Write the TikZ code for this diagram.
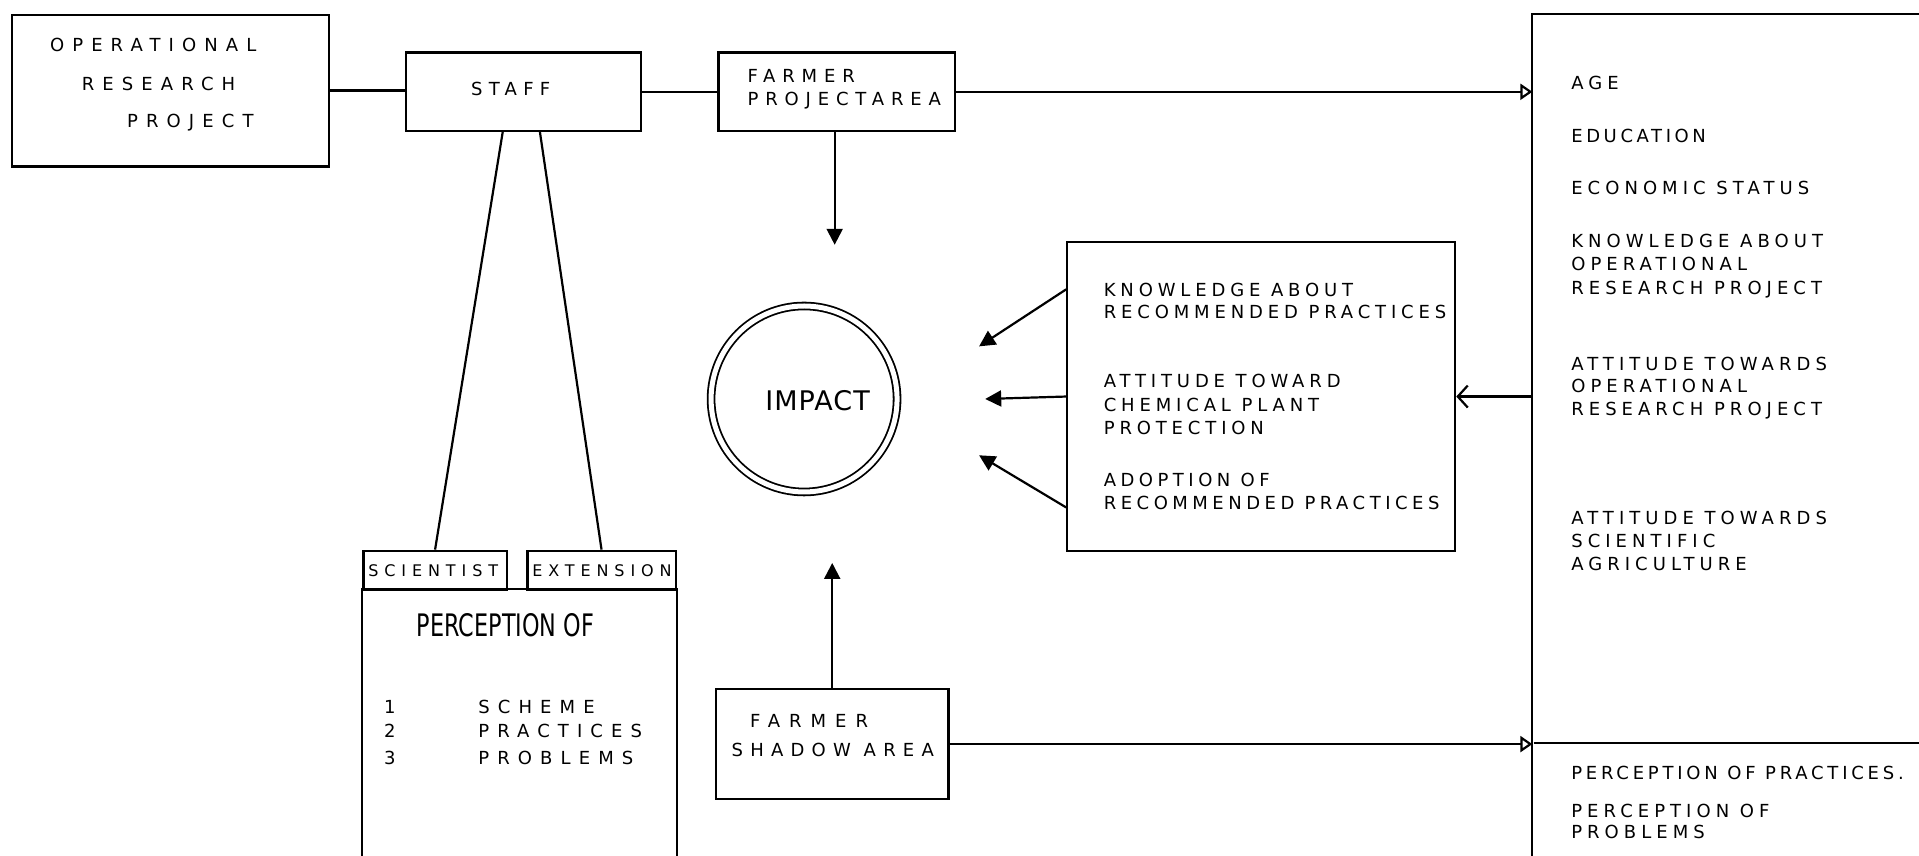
\documentclass[tikz,border=0pt]{standalone}
\usepackage{fontspec}
\setmainfont{DejaVu Sans}
\newcommand\lsfont[3]{\fontsize{#1}{#2}\selectfont\addfontfeature{LetterSpace=#3}}
\newfontfamily\condf[FakeStretch=0.72]{DejaVu Sans}
\newfontfamily\impf[LetterSpace=4]{DejaVu Sans}
\usetikzlibrary{arrows.meta,calc}
\begin{document}
\begin{tikzpicture}[x=0.612pt,y=-0.612pt, line width=1.1pt,
 box/.style={draw, rectangle, inner sep=0pt},
 frame/.style={rectangle, inner sep=0pt},
 txt/.style={anchor=west, inner sep=0pt, align=left, font=\lsfont{9}{11.6}{28}, text height=6.5pt, text depth=0pt},
 ftip/.style={-{Triangle[length=8pt,width=8pt]}},
 otip/.style={-{Triangle[open,length=6pt,width=8pt]}},
 btip/.style={-{Straight Barb[length=5pt,width=11pt]}}]
\useasboundingbox (0,0) rectangle (1568,699);

% boxes
\node[box, minimum width=158.5pt, minimum height=75.9pt] (orp) at (139.5,74) {};
\node[box, minimum width=117.5pt, minimum height=39.2pt] (staff) at (428,75) {};
\node[box, minimum width=118.1pt, minimum height=39.2pt] (fpa) at (683.5,75) {};
\node[box, minimum width=116.3pt, minimum height=55.1pt] (fsa) at (680,608) {};
\node[box, minimum width=194.0pt, minimum height=154.2pt] (mid) at (1030.5,324) {};
\node[box, minimum width=71.6pt, minimum height=19.6pt] (sci) at (355.5,466) {};
\node[box, minimum width=74.1pt, minimum height=19.6pt] (ext) at (491.5,466) {};
\node[frame, minimum width=156.1pt, minimum height=132.8pt] (perc) at (424.5,590.5) {};
\node[frame, minimum width=192.8pt, minimum height=420.4pt] (big) at (1410.5,355.5) {};
\node[draw, circle, double, double distance=2.5pt, line width=0.9pt, minimum size=93pt, inner sep=0pt] (imp) at (657,326) {};

% partial frames
\draw (perc.south west) -- (perc.north west) -- (perc.north east) -- (perc.south east);
\draw (big.north east) -- (big.north west) -- (big.south west);
\coordinate (div) at (1253,607);
\draw (div) -- (div -| big.east);

% texts (multi-line nodes are placed at the centre of their last line)
\node[txt, font=\lsfont{9}{11}{45}] (t-op) at (40,37) {OPERATIONAL};
\node[txt, font=\lsfont{9}{11}{45}] (t-rs) at (66,69) {RESEARCH};
\node[txt, font=\lsfont{9}{11}{45}] (t-pj) at (103,99) {PROJECT};
\node[txt, font=\lsfont{9}{11}{35}] (t-staff) at (384,73) {STAFF};
\node[txt, font=\lsfont{9}{11.6}{38}] (t-fpa) at (610,81) {FARMER\\PROJECTAREA};
\node[txt, font=\lsfont{9}{11}{50}] (t-fsa1) at (612,589) {FARMER};
\node[txt, font=\lsfont{9}{11}{40}] (t-fsa2) at (597,613) {SHADOW AREA};
\node[txt, font=\lsfont{8}{9}{37}, text height=5.8pt] (t-sci) at (300,466) {SCIENTIST};
\node[txt, font=\lsfont{8}{9}{37}, text height=5.8pt] (t-ext) at (434,466) {EXTENSION};
\node[inner sep=0pt, font=\condf\fontsize{15.5}{17}\selectfont] (t-perc) at (413,511) {PERCEPTION OF};
\node[txt, font=\lsfont{9}{11}{45}] (n1) at (313,578) {1};
\node[txt, font=\lsfont{9}{11}{45}] (n2) at (313,597) {2};
\node[txt, font=\lsfont{9}{11}{45}] (n3) at (313,619) {3};
\node[txt, font=\lsfont{9}{11}{45}] (w1) at (390,578) {SCHEME};
\node[txt, font=\lsfont{9}{11}{45}] (w2) at (390,597) {PRACTICES};
\node[txt, font=\lsfont{9}{11}{45}] (w3) at (390,619) {PROBLEMS};
\node[inner sep=0pt, font=\impf\fontsize{13.5}{16}\selectfont] (t-imp) at (668,327) {IMPACT};

\node[txt, font=\lsfont{9}{11.2}{27}] (m1) at (901,255) {KNOWLEDGE ABOUT\\RECOMMENDED PRACTICES};
\node[txt, font=\lsfont{9}{11.9}{27}] (m2) at (901,350) {ATTITUDE TOWARD\\CHEMICAL PLANT\\PROTECTION};
\node[txt, font=\lsfont{9}{11.6}{25}] (m3) at (901,411) {ADOPTION OF\\RECOMMENDED PRACTICES};

\node[txt] (r1) at (1283,68) {AGE};
\node[txt, font=\lsfont{9}{11}{20}] (r2) at (1283,111) {EDUCATION};
\node[txt] (r3) at (1283,154) {ECONOMIC STATUS};
\node[txt] (r4) at (1283,235) {KNOWLEDGE ABOUT\\OPERATIONAL\\RESEARCH PROJECT};
\node[txt, font=\lsfont{9}{11.2}{28}] (r5) at (1283,334) {ATTITUDE TOWARDS\\OPERATIONAL\\RESEARCH PROJECT};
\node[txt, font=\lsfont{9}{11.6}{28}] (r6) at (1283,461) {ATTITUDE TOWARDS\\SCIENTIFIC\\AGRICULTURE};
\node[txt, font=\lsfont{9}{11}{21}] (r7) at (1283,632) {PERCEPTION OF PRACTICES.};
\node[txt, font=\lsfont{9}{10.4}{28}] (r8) at (1283,680) {PERCEPTION OF\\PROBLEMS};

% free arrow ends
\coordinate (tip1) at (682,200);
\coordinate (tip2) at (680,460);
\coordinate (tipk) at (800,283);
\coordinate (tipa) at (805,326);
\coordinate (tipd) at (800,372);

% connectors
\draw (orp.east) -- (orp.east -| staff.west);
\draw (staff.east) -- (staff.east -| fpa.west);
\draw[otip] (fpa.east) -- (fpa.east -| big.west);
\draw[ftip] (fpa.south -| tip1) -- (tip1);
\draw[ftip] (fsa.north -| tip2) -- (tip2);
\draw[otip] (fsa.east) -- (fsa.east -| big.west);
\draw[btip] (big.west |- mid.east) -- (mid.east);
\draw[ftip] ($(mid.north west)!0.155!(mid.south west)$) -- (tipk);
\draw[ftip] (mid.west) -- (tipa);
\draw[ftip] ($(mid.north west)!0.857!(mid.south west)$) -- (tipd);
\draw ($(staff.south west)!0.411!(staff.south east)$) -- (sci.north);
\draw ($(staff.south west)!0.568!(staff.south east)$) -- (ext.north);
\end{tikzpicture}
\end{document}
